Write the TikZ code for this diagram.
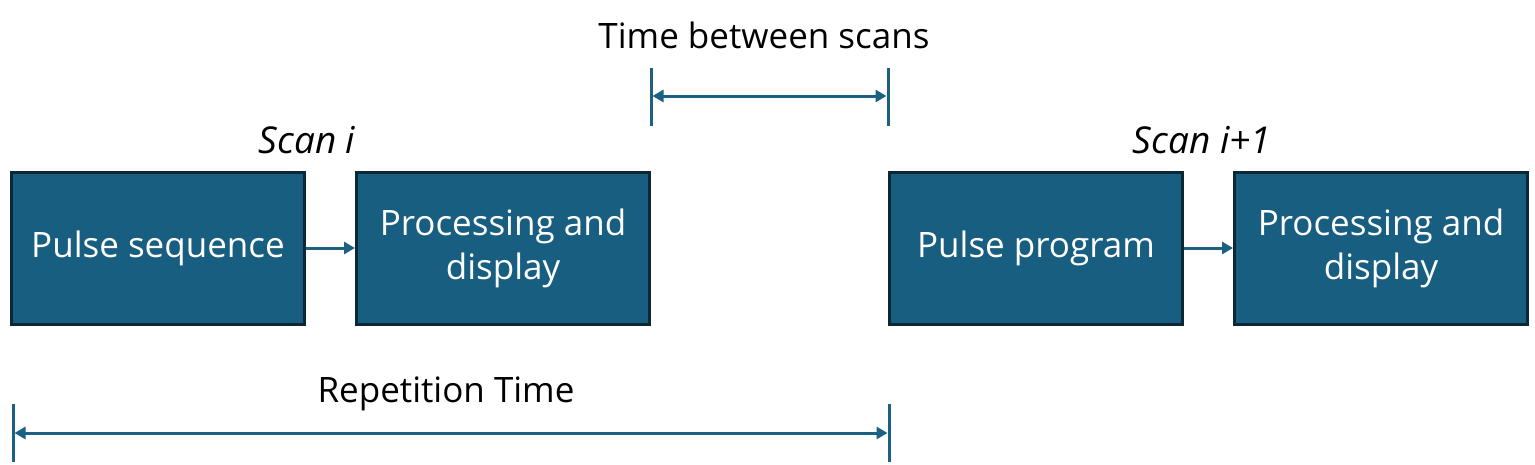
\documentclass[tikz,border=0pt]{standalone}
\usepackage{fontspec}
\setmainfont{Open Sans}
\usetikzlibrary{arrows.meta}
\definecolor{boxfill}{HTML}{185E80}
\definecolor{boxline}{HTML}{0C2736}
\definecolor{arr}{HTML}{1A6183}
\begin{document}
\begin{tikzpicture}[x=1pt,y=-1pt,
  blk/.style={draw=boxline,line width=3pt,fill=boxfill,text=white,minimum width=293pt,minimum height=152pt,align=center,font=\fontsize{35}{44}\selectfont,inner sep=0pt},
  con/.style={draw=arr,line width=3pt,-{Triangle[length=11pt,width=12pt]}},
  dim/.style={draw=arr,line width=3pt,{Triangle[length=11pt,width=12pt]}-{Triangle[length=11pt,width=12pt]},shorten <=1.5pt,shorten >=1.5pt},
  tick/.style={draw=arr,line width=3pt},
  lbl/.style={font=\fontsize{35}{44}\selectfont,inner sep=0pt},
  ilbl/.style={font=\fontsize{37}{44}\selectfont\itshape,inner sep=0pt}]
\useasboundingbox (0,0) rectangle (1535,464);
\node[blk] (b1) at (158,248) {Pulse sequence};
\node[blk] (b2) at (503,248) {Processing and\\display};
\node[blk] (b3) at (1036,248) {Pulse program};
\node[blk] (b4) at (1381,248) {Processing and\\display};
\draw[con] (b1.east) -- (b2.west);
\draw[con] (b3.east) -- (b4.west);
\node[ilbl] (s1) at (307,140) {Scan i};
\node[ilbl] (s2) at (1202,140) {Scan i+1};
\coordinate (t1a) at (651,68); \coordinate (t1b) at (651,126);
\coordinate (t2a) at (888,68); \coordinate (t2b) at (888,126);
\coordinate (t1m) at (651,96); \coordinate (t2m) at (888,96);
\draw[tick] (t1a) -- (t1b);
\draw[tick] (t2a) -- (t2b);
\draw[dim] (t1m) -- (t2m);
\node[lbl] (tb) at (764,35) {Time between scans};
\coordinate (r1a) at (13,404); \coordinate (r1b) at (13,462);
\coordinate (r2a) at (889,404); \coordinate (r2b) at (889,462);
\coordinate (r1m) at (13,433); \coordinate (r2m) at (889,433);
\draw[tick] (r1a) -- (r1b);
\draw[tick] (r2a) -- (r2b);
\draw[dim] (r1m) -- (r2m);
\node[lbl] (rt) at (446,394) {Repetition Time};
\end{tikzpicture}
\end{document}
